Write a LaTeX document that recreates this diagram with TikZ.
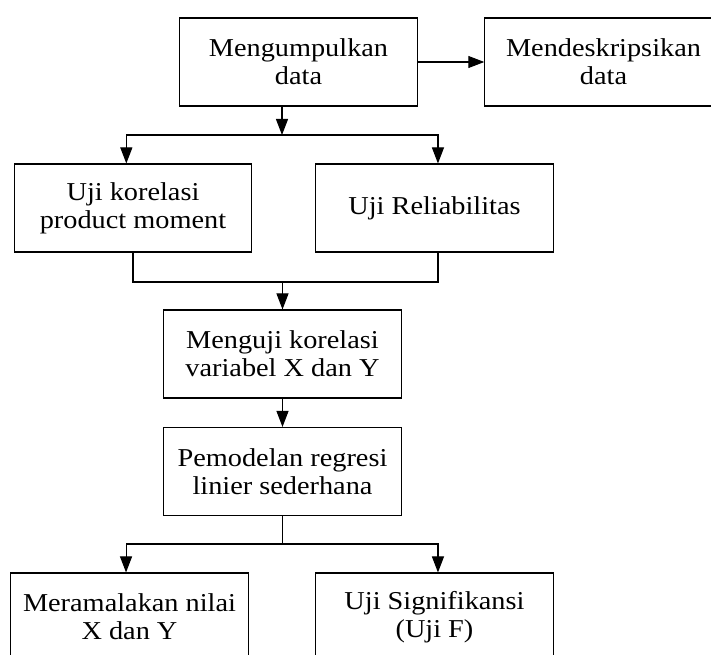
\documentclass[tikz,border=0pt]{standalone}
\usepackage{fontspec}
\setmainfont{Liberation Serif}[FakeStretch=1.1]
\usetikzlibrary{arrows.meta}

\begin{document}
\begin{tikzpicture}[x=0.75pt,y=-0.75pt,line width=0.8pt,
        >={Triangle[length=12pt,width=9pt]},
        kotak/.style={draw,minimum width=178pt,minimum height=66pt,align=center,inner sep=0pt,
            font=\fontsize{19.3}{20.8}\selectfont}]
    \useasboundingbox (0,0) rectangle (711,655);
    \clip (0,0) rectangle (711,655);
    % kotak-kotak
    \node[kotak] (kumpul) at (298.5,62) {Mengumpulkan\\data};
    \node[kotak] (deskripsi) at (603.5,62) {Mendeskripsikan\\data};
    \node[kotak] (korelasi) at (133,208) {Uji korelasi\\product moment};
    \node[kotak] (reliabel) at (434.5,208) {Uji Reliabilitas};
    \node[kotak] (menguji) at (282.5,354) {Menguji korelasi\\variabel X dan Y};
    \node[kotak] (model) at (282.5,471.5) {Pemodelan regresi\\linier sederhana};
    \node[kotak] (ramal) at (129.5,617) {Meramalakan nilai\\X dan Y};
    \node[kotak] (signif) at (434.5,617) {Uji Signifikansi\\(Uji F)};
    % titik cabang
    \coordinate (cabang1) at (282,135);
    \coordinate (cabang2) at (282.5,282);
    \coordinate (cabang3) at (282.5,544);
    % panah
    \draw[->] (kumpul) -- (deskripsi);
    \draw[->] (kumpul.south -| cabang1) -- (cabang1);
    \draw[->] (cabang1) -| ([xshift=-5pt]korelasi.north);
    \draw[->] (cabang1) -| ([xshift=2.6pt]reliabel.north);
    \draw (korelasi.south) |- (cabang2) -| ([xshift=2.6pt]reliabel.south);
    \draw[->] (cabang2) -- (menguji.north);
    \draw[->] (menguji) -- (model);
    \draw (model.south) -- (cabang3);
    \draw[->] (cabang3) -| ([xshift=-2.6pt]ramal.north);
    \draw[->] (cabang3) -| ([xshift=2.6pt]signif.north);
\end{tikzpicture}
\end{document}
